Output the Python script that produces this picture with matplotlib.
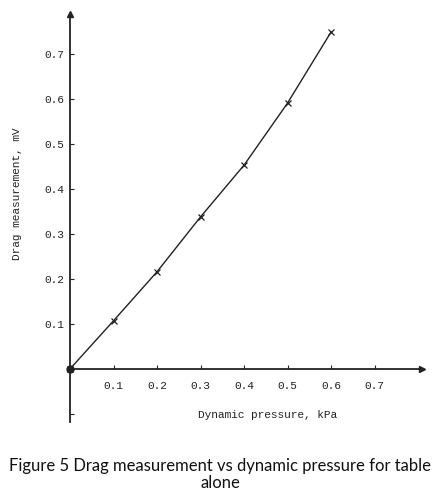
import matplotlib
matplotlib.use("Agg")
import matplotlib.pyplot as plt

# Data
pressure_kpa = [0.0, 0.1, 0.2, 0.3, 0.4, 0.5, 0.6]
drag_mv = [0.0, 0.107, 0.216, 0.338, 0.453, 0.591, 0.749]

x_ticks = [0.1, 0.2, 0.3, 0.4, 0.5, 0.6, 0.7]
x_tick_labels = ["0.1", "0.2", "0.3", "0.4", "0.5", "0.6", "0.7"]
y_ticks = [-0.1, 0.0, 0.1, 0.2, 0.3, 0.4, 0.5, 0.6, 0.7]
y_tick_labels = ["", "", "0.1", "0.2", "0.3", "0.4", "0.5", "0.6", "0.7"]

mono = "Liberation Mono"
ink = "#222222"

fig = plt.figure(figsize=(4.40, 4.94), dpi=100)
ax = fig.add_axes([70 / 440, 72 / 494, 352 / 440, 408 / 494])
ax.set_xlim(0, 0.809)
ax.set_ylim(-0.118, 0.789)

for s in ["top", "right"]:
    ax.spines[s].set_visible(False)
ax.spines["bottom"].set_position(("data", 0))
ax.spines["left"].set_position(("data", 0))
for s in ["bottom", "left"]:
    ax.spines[s].set_color(ink)
    ax.spines[s].set_linewidth(1.3)

# arrowheads
ax.plot(1, 0, ">", color=ink, markersize=5, transform=ax.get_yaxis_transform(), clip_on=False)
ax.plot(0, 1, "^", color=ink, markersize=5, transform=ax.get_xaxis_transform(), clip_on=False)

ax.set_xticks(x_ticks)
ax.set_xticklabels(x_tick_labels, fontfamily=mono, fontsize=8)
ax.set_yticks(y_ticks)
ax.set_yticklabels(y_tick_labels, fontfamily=mono, fontsize=8)
ax.tick_params(axis="both", direction="in", length=3, width=0.8, color=ink, labelcolor=ink)
ax.tick_params(axis="x", pad=9)
ax.tick_params(axis="y", pad=4)

ax.plot(pressure_kpa, drag_mv, color=ink, linewidth=1.0, marker="x",
        markersize=4, markeredgewidth=0.9, clip_on=False)
ax.plot(pressure_kpa[:1], drag_mv[:1], "o", color=ink, markersize=5, clip_on=False, zorder=5)

ax.set_xlabel("Dynamic pressure, kPa", fontfamily=mono, fontsize=8, color=ink)
ax.xaxis.label.set_va("center")
ax.xaxis.set_label_coords(0.5625, (494 - 415 - 72) / 408)
ax.set_ylabel("Drag measurement, mV", fontfamily=mono, fontsize=8, color=ink)
ax.yaxis.label.set_va("center")
ax.yaxis.set_label_coords(-0.15, 0.559)

fig.text(0.5, 1 - 474.5 / 494, "Figure 5 Drag measurement vs dynamic pressure for table\nalone",
         ha="center", va="center", fontfamily="Lato", fontsize=12, color="#111111",
         linespacing=1.1)

fig.savefig("out.png", dpi=100)
